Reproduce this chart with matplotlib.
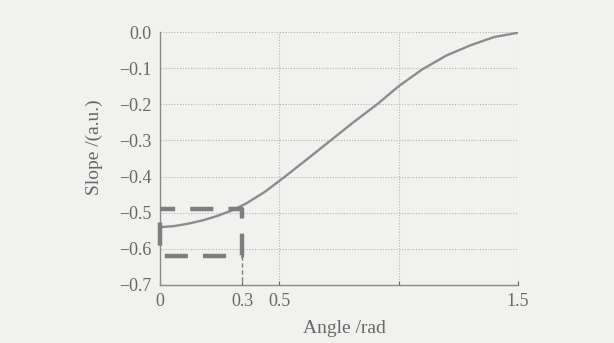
import numpy as np
import matplotlib
matplotlib.use('Agg')
import matplotlib.pyplot as plt

# curve
angle = [0.00, 0.06, 0.12, 0.18, 0.24, 0.30, 0.36, 0.44, 0.52, 0.62, 0.715, 0.81, 0.91,
         1.00, 1.10, 1.20, 1.30, 1.40, 1.50]
slope = [-0.540, -0.537, -0.530, -0.521, -0.509, -0.494, -0.475, -0.442, -0.402, -0.350,
         -0.300, -0.250, -0.200, -0.150, -0.103, -0.065, -0.037, -0.014, -0.002]

# dashed window (left, right, bottom, top)
box_x = [0.0, 0.345]
box_y = [-0.62, -0.49]

xticks = [0.0, 0.345, 0.5, 1.0, 1.5]
xticklabels = ['0', '0.3', '0.5', '', '1.5']
yticks = [0.0, -0.1, -0.2, -0.3, -0.4, -0.5, -0.6, -0.7]
xgrid = [0.5, 1.0, 1.5]
ygrid = [0.0, -0.1, -0.2, -0.3, -0.4, -0.5, -0.6]

bg = '#f1f1ef'
ink = '#676767'
plt.rcParams['font.family'] = ['Liberation Serif', 'DejaVu Serif']

fig = plt.figure(figsize=(6.14, 3.43), dpi=100, facecolor=bg)
ax = fig.add_axes([0.2606, 0.1691, 0.5830, 0.7376])
ax.set_facecolor(bg)

for g in ygrid:
    ax.axhline(g, color='#b5b5b5', lw=0.8, ls=(0, (1, 1.5)), zorder=1)
for g in xgrid:
    ax.axvline(g, color='#b5b5b5', lw=0.8, ls=(0, (1, 1.5)), zorder=1)

ax.plot(angle, slope, color='#8c8c8c', lw=1.7, zorder=3)

# dashed box
bx = [box_x[0], box_x[1], box_x[1], box_x[0], box_x[0]]
by = [box_y[1], box_y[1], box_y[0], box_y[0], box_y[1]]
ax.plot(bx, by, color='#7e7e7e', lw=3.2, ls=(1.8, (5.2, 3.4)), zorder=4, clip_on=False)
# thin drop line to the axis
ax.plot([box_x[1], box_x[1]], [box_y[0], -0.7], color='#7e7e7e', lw=1.0,
        ls=(0, (3, 2)), zorder=4, clip_on=False)

ax.set_xlim(0, 1.5)
ax.set_ylim(-0.7, 0.0)
ax.set_xticks(xticks)
ax.set_xticklabels(xticklabels)
ax.set_yticks(yticks)
ax.set_yticklabels(['%.1f' % v if v == 0 else '\u2212%.1f' % abs(v) for v in yticks])
ax.tick_params(direction='in', length=3, width=0.8, colors=ink, labelsize=13, pad=6)
ax.tick_params(axis='y', length=0)

for s in ['top', 'right']:
    ax.spines[s].set_visible(False)
for s in ['left', 'bottom']:
    ax.spines[s].set_color('#8a8a8a')
    ax.spines[s].set_linewidth(1.0)

ax.set_xlabel('Angle /rad', fontsize=14, color=ink)
ax.xaxis.set_label_coords(0.514, -0.17)
ax.xaxis.label.set_va('center')
ax.set_ylabel('Slope /(a.u.)', fontsize=14, color=ink)
ax.yaxis.set_label_coords(-0.184, 0.545)
ax.yaxis.label.set_va('center')

fig.savefig('out.png', dpi=100, facecolor=bg)
